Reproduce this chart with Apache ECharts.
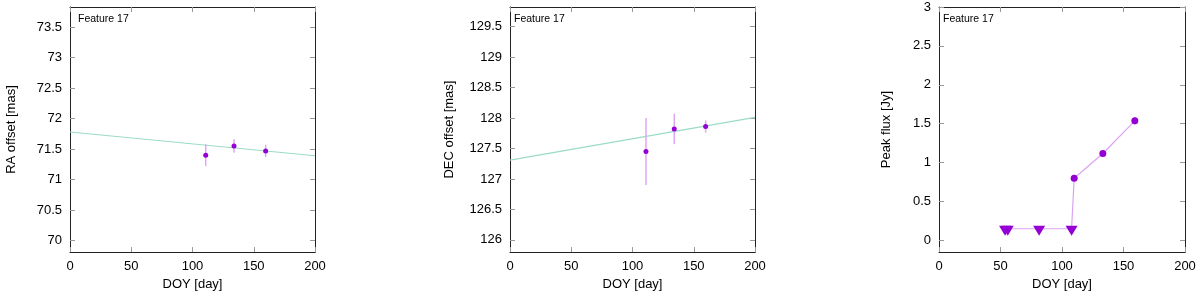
<!DOCTYPE html>
<html><head><meta charset="utf-8">
<script src="https://cdn.jsdelivr.net/npm/echarts@6/dist/echarts.min.js"></script>
<style>html,body{margin:0;padding:0;background:#fff}#c{width:1200px;height:296px}</style>
</head><body><div id="c"></div>
<script>
// ---- data ----
const raDoy = [110.8, 133.9, 159.7];
const raVal = [71.40, 71.55, 71.47];
const raErr = [0.18, 0.11, 0.10];
const raFitX = [0, 200];
const raFitY = [71.78, 71.39];

const decDoy = [111.0, 134.1, 159.7];
const decVal = [127.45, 127.82, 127.86];
const decErr = [0.55, 0.25, 0.10];
const decFitX = [0, 200];
const decFitY = [127.31, 128.01];

const limDoy = [53.7, 55.9, 81.4, 107.8];
const limFlux = [0.15, 0.15, 0.15, 0.15];
const detDoy = [109.9, 133.2, 159.2];
const detFlux = [0.80, 1.117, 1.537];
const detErr = [0.02, 0.03, 0.05];

const raTicks = [70, 70.5, 71, 71.5, 72, 72.5, 73, 73.5];
const decTicks = [126, 126.5, 127, 127.5, 128, 128.5, 129, 129.5];
const fluxTicks = [0, 0.5, 1, 1.5, 2, 2.5, 3];

const yLabels = ['RA offset [mas]', 'DEC offset [mas]', 'Peak flux [Jy]'];
const xLabel = 'DOY [day]';
const titleText = 'Feature 17';

// ---- styles ----
const FONT = '"Liberation Sans", Arial, Helvetica, sans-serif';
const MARK = '#9400d3';
const ERR = '#dfa6f5';
const FIT = '#9bdcc2';
const LINK = '#dba3f2';

const grids = [
  {left: 70, width: 245, top: 7, height: 246},
  {left: 510, width: 245, top: 7, height: 246},
  {left: 939, width: 246, top: 7, height: 246}
];
const yRanges = [[69.81, 73.83], [125.8, 129.82], [-0.15, 3.0]];
const yTicks = [raTicks, decTicks, fluxTicks];
const nameGaps = [52, 54, 46];

const xAxes = [], yAxes = [];
for (let i = 0; i < 3; i++) {
  xAxes.push({
    type: 'value', gridIndex: i, min: 0, max: 200, interval: 50, position: 'bottom',
    name: xLabel, nameLocation: 'middle', nameGap: 25,
    nameTextStyle: {fontFamily: FONT, fontSize: 13, color: '#000'},
    axisLine: {show: true, onZero: false, lineStyle: {color: '#222', width: 1}},
    axisTick: {show: true, inside: true, length: 5, lineStyle: {color: '#999'}},
    axisLabel: {fontFamily: FONT, fontSize: 13, color: '#000', margin: 8},
    splitLine: {show: false}
  });
  yAxes.push({
    type: 'value', gridIndex: i, min: yRanges[i][0], max: yRanges[i][1], position: 'left',
    name: yLabels[i], nameLocation: 'middle', nameGap: nameGaps[i],
    nameTextStyle: {fontFamily: FONT, fontSize: 13, color: '#000'},
    axisLine: {show: true, onZero: false, lineStyle: {color: '#222', width: 1}},
    axisTick: {show: true, inside: true, length: 5, customValues: yTicks[i], lineStyle: {color: '#999'}},
    axisLabel: {fontFamily: FONT, fontSize: 13, color: '#000', margin: 8, customValues: yTicks[i], showMinLabel: true, showMaxLabel: true},
    splitLine: {show: false}
  });
}
for (let i = 0; i < 3; i++) {
  xAxes.push({
    type: 'value', gridIndex: i, min: 0, max: 200, interval: 50, position: 'top',
    axisLine: {show: true, onZero: false, lineStyle: {color: '#222', width: 1}},
    axisTick: {show: true, inside: true, length: 5, lineStyle: {color: '#999'}},
    axisLabel: {show: false}, splitLine: {show: false}
  });
  yAxes.push({
    type: 'value', gridIndex: i, min: yRanges[i][0], max: yRanges[i][1], position: 'right',
    axisLine: {show: true, onZero: false, lineStyle: {color: '#222', width: 1}},
    axisTick: {show: true, inside: true, length: 5, customValues: yTicks[i], lineStyle: {color: '#999'}},
    axisLabel: {show: false}, splitLine: {show: false}
  });
}

function errSeries(idx, xs, ys, es, color) {
  return {
    type: 'custom', xAxisIndex: idx, yAxisIndex: idx, silent: true, z: 3,
    data: xs.map((x, k) => [x, ys[k], es[k]]),
    encode: {x: 0, y: 1},
    renderItem: function (params, api) {
      const x = api.value(0), y = api.value(1), e = api.value(2);
      const a = api.coord([x, y + e]), b = api.coord([x, y - e]);
      return {type: 'line', shape: {x1: a[0], y1: a[1], x2: b[0], y2: b[1]},
        style: {stroke: color, lineWidth: 1.5}};
    }
  };
}
function pts(xs, ys) { return xs.map((x, k) => [x, ys[k]]); }

const linkX = limDoy.concat(detDoy);
const linkY = limFlux.concat(detFlux);
const titleStyle = {fontFamily: FONT, fontSize: 10.5, fontWeight: 'normal', color: '#000'};

const option = {
  animation: false,
  backgroundColor: '#fff',
  title: [
    {text: titleText, left: 78, top: 14, padding: 0, textStyle: titleStyle},
    {text: titleText, left: 514, top: 14, padding: 0, textStyle: titleStyle},
    {text: titleText, left: 943, top: 14, padding: 0, textStyle: titleStyle}
  ],
  grid: grids,
  xAxis: xAxes,
  yAxis: yAxes,
  series: [
    {type: 'line', xAxisIndex: 0, yAxisIndex: 0, data: pts(raFitX, raFitY), showSymbol: false, clip: true,
      lineStyle: {color: FIT, width: 1.2}, silent: true, z: 2},
    errSeries(0, raDoy, raVal, raErr, ERR),
    {type: 'scatter', xAxisIndex: 0, yAxisIndex: 0, data: pts(raDoy, raVal), symbol: 'circle', symbolSize: 5,
      itemStyle: {color: MARK, opacity: 1}, z: 4},

    {type: 'line', xAxisIndex: 1, yAxisIndex: 1, data: pts(decFitX, decFitY), showSymbol: false, clip: true,
      lineStyle: {color: FIT, width: 1.2}, silent: true, z: 2},
    errSeries(1, decDoy, decVal, decErr, ERR),
    {type: 'scatter', xAxisIndex: 1, yAxisIndex: 1, data: pts(decDoy, decVal), symbol: 'circle', symbolSize: 5,
      itemStyle: {color: MARK, opacity: 1}, z: 4},

    {type: 'line', xAxisIndex: 2, yAxisIndex: 2, data: pts(linkX, linkY), showSymbol: false,
      lineStyle: {color: LINK, width: 1.2}, silent: true, z: 2},
    errSeries(2, detDoy, detFlux, detErr, ERR),
    {type: 'scatter', xAxisIndex: 2, yAxisIndex: 2, data: pts(limDoy, limFlux), symbol: 'triangle', symbolRotate: 180,
      symbolSize: [12, 10], symbolOffset: [0, 2], itemStyle: {color: MARK, opacity: 1}, z: 4},
    {type: 'scatter', xAxisIndex: 2, yAxisIndex: 2, data: pts(detDoy, detFlux), symbol: 'circle', symbolSize: 7,
      itemStyle: {color: MARK, opacity: 1}, z: 4}
  ]
};
echarts.init(document.getElementById('c'), null, {renderer: 'canvas'}).setOption(option);
</script></body></html>
